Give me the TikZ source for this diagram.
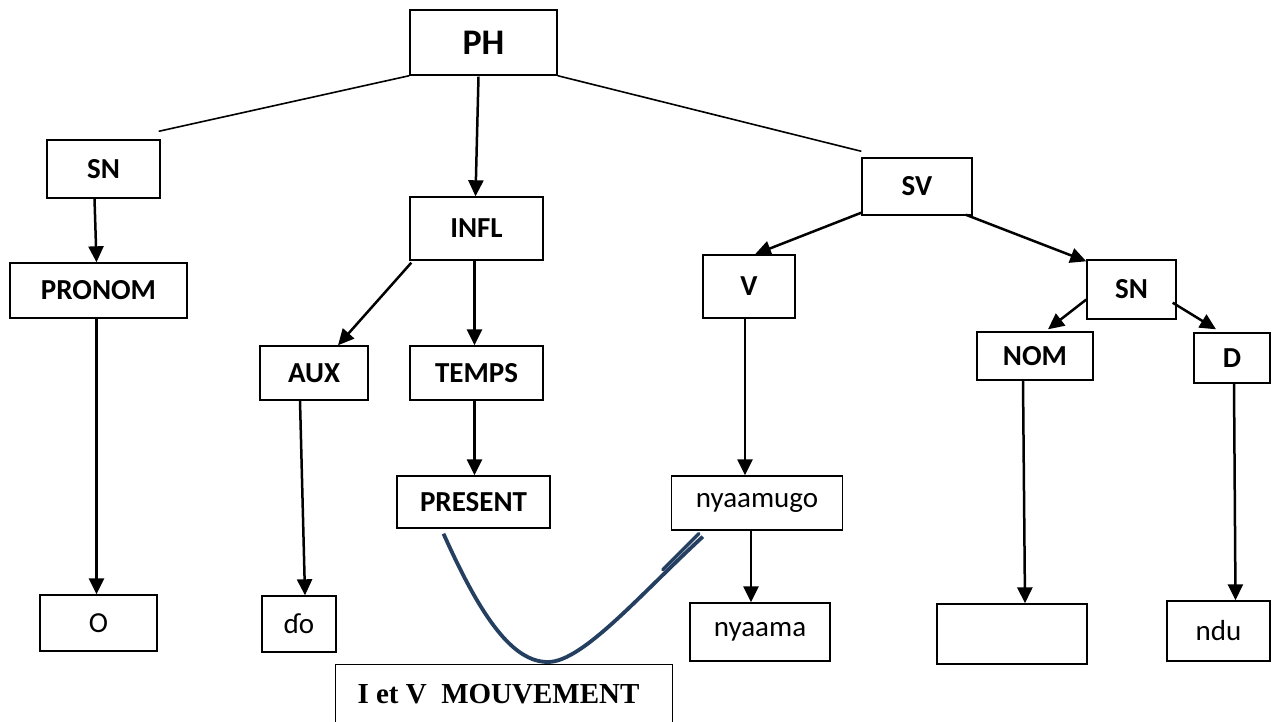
\documentclass[tikz,border=0pt]{standalone}
\usepackage{fontspec}
\setmainfont{Carlito}
\newfontfamily\timesfont{Liberation Serif}
\usetikzlibrary{arrows.meta,calc}
\definecolor{curveblue}{HTML}{243F60}
\tikzset{
  box/.style={draw=black, line width=1.4pt, inner sep=0pt, font=\fontsize{29}{32}\selectfont\bfseries},
  wbox/.style={box, font=\fontsize{29}{32}\selectfont},
  arr/.style={line width=2.5pt, -{Triangle[length=16pt,width=15pt]}},
  ln/.style={line width=1.6pt},
}
\begin{document}
\begin{tikzpicture}[x=1pt,y=-1pt]
\clip (0,0) rectangle (1274,721);
\fill[white] (0,0) rectangle (1274,721);
% nodes
\node[box, minimum width=147pt, minimum height=65pt, font=\fontsize{36}{40}\selectfont\bfseries] (ph) at (483.5,42.5) {PH};
\node[box, minimum width=113pt, minimum height=58pt] (sn1) at (103.5,169) {SN};
\node[box, minimum width=133pt, minimum height=63pt] (infl) at (476.5,228.5) {INFL};
\node[box, minimum width=110pt, minimum height=57pt] (sv) at (917,186.5) {SV};
\node[box, minimum width=177pt, minimum height=55pt] (pronom) at (98.5,290.5) {PRONOM};
\node[box, minimum width=108pt, minimum height=54pt] (aux) at (314,373) {\raisebox{-3pt}{AUX}};
\node[box, minimum width=133pt, minimum height=54pt] (temps) at (476.5,373) {\raisebox{-3pt}{TEMPS}};
\node[box, minimum width=92pt, minimum height=63pt] (v) at (749,286.5) {V};
\node[box, minimum width=89pt, minimum height=59pt] (sn2) at (1131.5,289.5) {SN};
\node[box, minimum width=116pt, minimum height=48pt] (nom) at (1035,356) {\raisebox{-5pt}{NOM}};
\node[box, minimum width=76pt, minimum height=50pt] (d) at (1232,358) {\raisebox{-6pt}{D}};
\node[box, minimum width=153pt, minimum height=52pt] (present) at (473.5,502) {\raisebox{-3pt}{PRESENT}};
\node[wbox, minimum width=171pt, minimum height=54pt] (nyaamugo) at (757,503) {nyaamugo};
\node[wbox, minimum width=117pt, minimum height=56pt] (o) at (98.5,623) {O};
\node[wbox, minimum width=74pt, minimum height=56pt] (do) at (299,624) {ɗo};
\node[wbox, minimum width=140pt, minimum height=58pt] (nyaama) at (760,632) {nyaama};
\node[wbox, minimum width=150pt, minimum height=60pt] (empty) at (1012,634) {};
\node[wbox, minimum width=103pt, minimum height=60pt] (ndu) at (1218.5,631) {ndu};
\node[box, minimum width=337pt, minimum height=80pt, anchor=north] (mouv) at (504,664) {};
\node[font=\fontsize{29}{32}\selectfont\timesfont\bfseries] (mouvtext) at (498.5,694) {I et V\ \ MOUVEMENT};
% plain lines
\draw[ln] (ph.south west) -- ($(sn1.north east)+(-2,-8)$);
\draw[ln] (ph.south east) -- ($(sv.north west)+(0,-6)$);
% arrows
\draw[arr] ($(ph.south)+(-5,1)$) -- ($(infl.north)+(-1,0)$);
\draw[arr] ($(sn1.south)+(-9,0)$) -- ($(pronom.north)+(-2,0)$);
\draw[arr] ($(infl.south west)+(2,2)$) -- ($(aux.north)+(24,0)$);
\draw[arr] ($(infl.south)+(-2,0)$) -- ($(temps.north)+(-2,0)$);
\draw[arr] ($(sv.south west)+(0,-3)$) -- ($(v.north)+(6,0)$);
\draw[arr] ($(sv.south east)+(-7,-1)$) -- ($(sn2.north west)+(0,2)$);
\draw[arr] ($(sn2.west)+(0,10)$) -- ($(nom.north)+(13,-2)$);
\draw[arr] ($(sn2.south east)+(-4,-17)$) -- ($(d.north)+(-16,-3)$);
\draw[arr] ($(pronom.south)+(-2,0)$) -- ($(o.north)+(-2,0)$);
\draw[arr] ($(aux.south)+(-14,0)$) -- ($(do.north)+(6,0)$);
\draw[arr] ($(temps.south)+(-2,0)$) -- ($(present.north)+(1,0)$);
\draw[arr] ($(v.south)+(-4,0)$) -- ($(nyaamugo.north)+(-12,0)$);
\draw[arr] ($(nyaamugo.south)+(-6,0)$) -- ($(nyaama.north)+(-9,0)$);
\draw[arr] ($(nom.south)+(-12,0)$) -- ($(empty.north)+(13,0)$);
\draw[arr] ($(d.south)+(2,0)$) -- ($(ndu.north)+(17,0)$);
% movement curve
\coordinate (cs) at ($(present.south)+(-30,5)$);
\coordinate (cm) at ($(mouv.north)+(44,-2)$);
\coordinate (ce) at ($(nyaamugo.south west)+(32,6)$);
\draw[curveblue, line width=3.8pt] (cs) .. controls +(38,85) and +(-35,0) .. (cm)
  .. controls +(35,0) and +(-60,55) .. (ce);
\draw[curveblue, line width=3.5pt, line cap=round] ($(ce)+(-4,-3)$) -- ($(ce)+(-40,33)$);
\end{tikzpicture}
\end{document}
